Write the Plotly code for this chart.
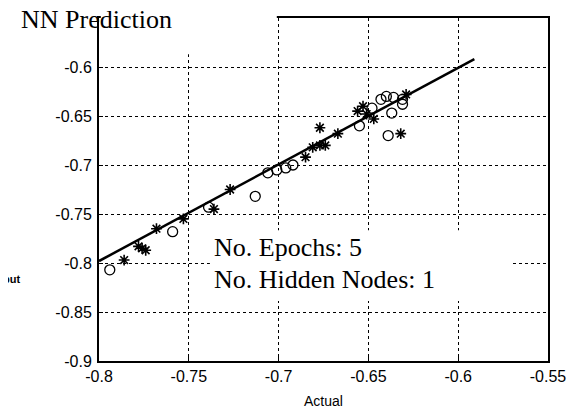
import plotly.graph_objects as go

# circles (actual, predicted)
circ_x = [-0.794, -0.759, -0.739, -0.713, -0.706, -0.701, -0.696, -0.692,
          -0.655, -0.643, -0.640, -0.636, -0.637, -0.631, -0.631, -0.639, -0.648]
circ_y = [-0.807, -0.768, -0.743, -0.732, -0.708, -0.705, -0.703, -0.700,
          -0.660, -0.633, -0.630, -0.631, -0.647, -0.638, -0.633, -0.670, -0.642]

# asterisks (actual, predicted)
star_x = [-0.786, -0.776, -0.774, -0.778, -0.768, -0.753, -0.736, -0.727,
          -0.685, -0.681, -0.677, -0.674, -0.677, -0.667, -0.653, -0.651,
          -0.647, -0.629, -0.632, -0.656]
star_y = [-0.797, -0.785, -0.787, -0.783, -0.765, -0.755, -0.745, -0.725,
          -0.692, -0.682, -0.680, -0.680, -0.662, -0.668, -0.640, -0.648,
          -0.653, -0.628, -0.668, -0.645]

# fitted line
line_x = [-0.800, -0.591]
line_y = [-0.798, -0.592]

x_ticks = [-0.8, -0.75, -0.7, -0.65, -0.6, -0.55]
y_ticks = [-0.9, -0.85, -0.8, -0.75, -0.7, -0.65, -0.6]

serif = "Liberation Serif"
sans = "Liberation Sans"

fig = go.Figure()
fig.add_trace(go.Scatter(x=line_x, y=line_y, mode="lines",
                         line=dict(color="black", width=2.5), showlegend=False))
fig.add_trace(go.Scatter(x=circ_x, y=circ_y, mode="markers",
                         marker=dict(symbol="circle-open", size=10, color="black",
                                     line=dict(width=1.3)),
                         showlegend=False))
fig.add_trace(go.Scatter(x=star_x, y=star_y, mode="markers",
                         marker=dict(symbol="asterisk-open", size=9, color="black",
                                     line=dict(width=1.6, color="black")),
                         showlegend=False))

axis_style = dict(showline=True, linecolor="black", linewidth=2, mirror=True,
                  showgrid=True, gridcolor="black", griddash="dot", gridwidth=1,
                  ticks="inside", ticklen=4, tickcolor="black",
                  zeroline=False, tickfont=dict(family=sans, size=16, color="black"))

fig.update_xaxes(range=[-0.8, -0.55], tickvals=x_ticks,
                 ticktext=[str(v) for v in x_ticks],
                 title=dict(text="Actual", font=dict(family=sans, size=14, color="black"),
                            standoff=12),
                 **axis_style)
fig.update_yaxes(range=[-0.9, -0.55], tickvals=y_ticks,
                 ticktext=[str(v) for v in y_ticks],
                 ticklabelstandoff=2,
                 **axis_style)

# white patch where the title sits over the top frame edge
fig.add_shape(type="rect", xref="paper", yref="paper",
              x0=0.004, x1=0.396, y0=0.894, y1=1.03,
              fillcolor="white", line=dict(width=0), layer="above")

# white box behind the annotation text
fig.add_shape(type="rect", xref="paper", yref="paper",
              x0=0.247, x1=0.922, y0=0.175, y1=0.381,
              fillcolor="white", line=dict(width=0), layer="above")

fig.add_annotation(text="No. Epochs: 5", xref="paper", yref="paper",
                   x=0.252, y=0.33, xanchor="left", yanchor="middle", showarrow=False,
                   font=dict(family=serif, size=26, color="black"))
fig.add_annotation(text="No. Hidden Nodes: 1", xref="paper", yref="paper",
                   x=0.252, y=0.238, xanchor="left", yanchor="middle", showarrow=False,
                   font=dict(family=serif, size=26, color="black"))

# y-axis label, cut off at the left edge
fig.add_annotation(text="<b>Output</b>", xref="paper", yref="paper",
                   x=-0.172, y=0.238, xanchor="right", yanchor="middle", showarrow=False,
                   font=dict(family=sans, size=11, color="black"))

# page body adds an 8px margin, so the figure is sized to fit inside it
fig.update_layout(
    width=574, height=407,
    margin=dict(l=91, r=34, t=8, b=50),
    paper_bgcolor="white", plot_bgcolor="white",
    title=dict(text="NN Prediction", x=13 / 574, xanchor="left",
               y=0.995, yanchor="top",
               font=dict(family=serif, size=26, color="black")),
)

fig.write_html("out.html", config={"displayModeBar": False})
